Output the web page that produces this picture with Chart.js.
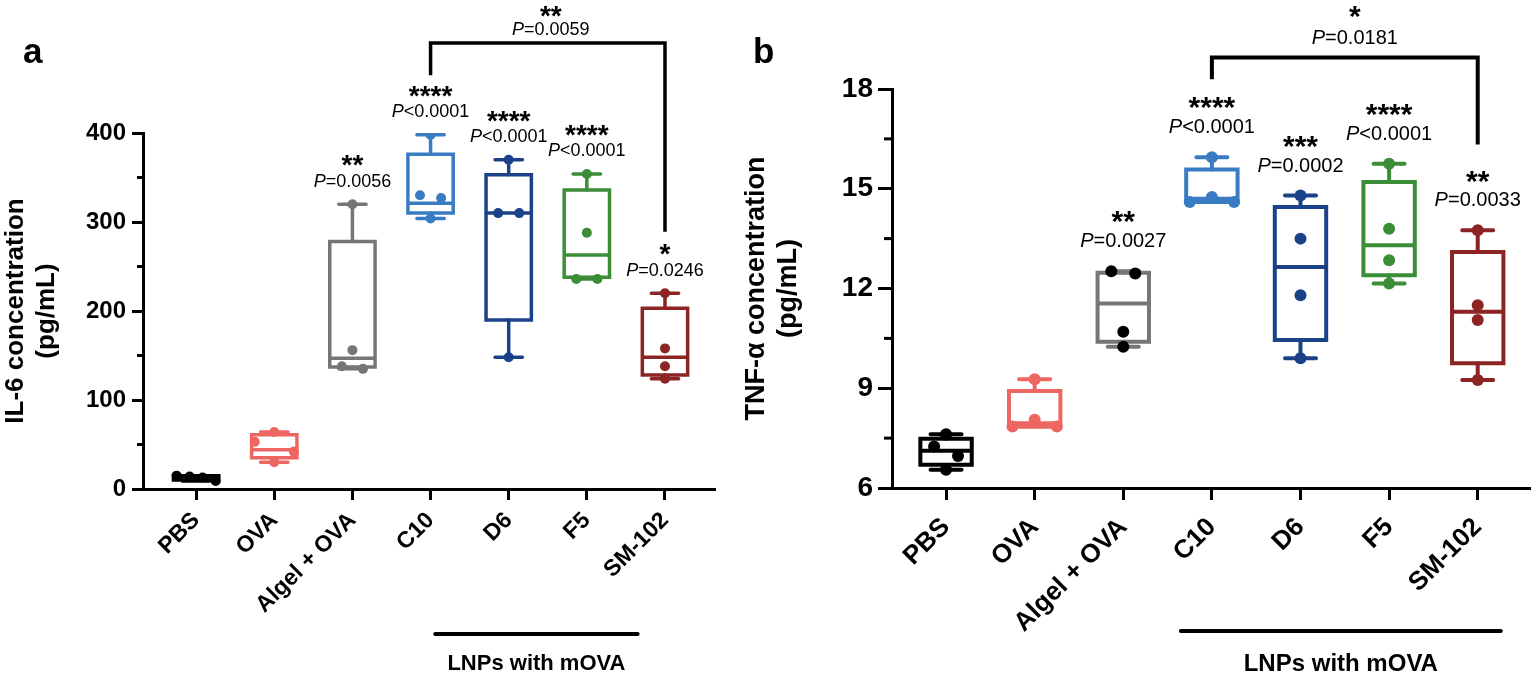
<!DOCTYPE html>
<html><head><meta charset="utf-8">
<script src="https://cdn.jsdelivr.net/npm/chart.js@4.4.1/dist/chart.umd.min.js"></script>
<style>
html,body{margin:0;padding:0;background:#fff}
body{width:1536px;height:674px;overflow:hidden;position:relative}
canvas{position:absolute;top:0}
#ca{left:0}
#cb{left:740px}
</style></head><body>
<canvas id="ca" width="740" height="674"></canvas>
<canvas id="cb" width="796" height="674"></canvas>
<script>
// ---------- data ----------
const categories = ['PBS', 'OVA', 'Algel + OVA', 'C10', 'D6', 'F5', 'SM-102'];

// Panel a: IL-6 (pg/mL) individual values per group
const il6Points = [
  [15, 14, 13, 9],
  [64, 53, 42, 30],
  [320, 156, 138, 135],
  [398, 330, 327, 304],
  [370, 310, 310, 148],
  [354, 288, 236, 236],
  [220, 158, 138, 124]
];
// box stats [min, q1, median, q3, max]
const il6Box = [
  [9, 10, 13.5, 15, 15],
  [30, 35, 44, 61, 64],
  [135, 137, 147, 278, 320],
  [304, 310, 321, 376, 398],
  [148, 190, 310, 353, 370],
  [236, 238, 263, 336, 354],
  [124, 128, 148, 203, 220]
];
const il6Stars = ['', '', '**', '****', '****', '****', '*'];
const il6P = ['', '', 'P=0.0056', 'P<0.0001', 'P<0.0001', 'P<0.0001', 'P=0.0246'];
const il6Ticks = [0, 100, 200, 300, 400];
const il6Minor = [50, 150, 250, 350];

// Panel b: TNF-alpha (pg/mL)
const tnfPoints = [
  [7.62, 7.25, 6.96, 6.55],
  [9.27, 8.05, 7.85, 7.85],
  [12.52, 12.45, 10.7, 10.25],
  [15.95, 14.75, 14.6, 14.6],
  [14.8, 13.5, 11.8, 9.9],
  [15.75, 13.8, 12.85, 12.15],
  [13.75, 11.5, 11.05, 9.25]
];
const tnfBox = [
  [6.55, 6.7, 7.12, 7.48, 7.62],
  [7.85, 7.85, 7.95, 8.92, 9.27],
  [10.25, 10.4, 11.55, 12.47, 12.52],
  [14.6, 14.62, 14.7, 15.58, 15.95],
  [9.9, 10.45, 12.65, 14.45, 14.8],
  [12.15, 12.4, 13.3, 15.2, 15.75],
  [9.25, 9.75, 11.3, 13.1, 13.75]
];
const tnfStars = ['', '', '**', '****', '***', '****', '**'];
const tnfP = ['', '', 'P=0.0027', 'P<0.0001', 'P=0.0002', 'P<0.0001', 'P=0.0033'];
const tnfTicks = [6, 9, 12, 15, 18];
const tnfMinor = [7.5, 10.5, 13.5, 16.5];

// comparisons C10 vs SM-102
const il6Bracket = {from: 3, to: 6, top: 501, leftEnd: 465, rightEnd: 289, stars: '**', p: 'P=0.0059'};
const tnfBracket = {from: 3, to: 6, top: 18.95, leftEnd: 18.29, rightEnd: 16.33, stars: '*', p: 'P=0.0181'};

// ---------- styles ----------
const FONT = "'Liberation Sans', Arial, Helvetica, sans-serif";
const boxColors = ['#000000', '#EE6662', '#767676', '#3A7CC3', '#1B4288', '#3B8D37', '#8C2424'];
const ptColorsA = ['#000000', '#EE6662', '#767676', '#3A7CC3', '#1B4288', '#3B8D37', '#8C2424'];
const ptColorsB = ['#000000', '#EE6662', '#000000', '#3A7CC3', '#1B4288', '#3B8D37', '#8C2424'];

// spread overlapping points horizontally (scatter-dot style)
function clusterOffsets(vals, thr) {
  const idx = vals.map((v, i) => i).sort((a, b) => vals[b] - vals[a]);
  const off = new Array(vals.length).fill(0);
  let cl = [idx[0]];
  const flush = () => {
    const n = cl.length;
    if (n > 1) {
      const s = Math.min(0.27, 0.5 / (n - 1));
      if (n % 2 === 1) {
        const order = [0];
        for (let k = 1; k <= (n - 1) / 2; k++) order.push(-k, k);
        cl.forEach((id, j) => off[id] = order[j] * s);
      } else {
        cl.forEach((id, j) => off[id] = (j - (n - 1) / 2) * s);
      }
    }
  };
  for (let k = 1; k < idx.length; k++) {
    if (vals[idx[k - 1]] - vals[idx[k]] < thr) cl.push(idx[k]);
    else { flush(); cl = [idx[k]]; }
  }
  flush();
  return off;
}

function buildScatter(points, colors, thr) {
  const data = [], bg = [];
  points.forEach((vals, i) => {
    const off = clusterOffsets(vals, thr);
    vals.forEach((v, j) => { data.push({x: i + off[j], y: v}); bg.push(colors[i]); });
  });
  return {data, bg};
}

const boxPlugin = {
  id: 'boxplot',
  beforeDatasetsDraw(chart, args, o) {
    const ctx = chart.ctx, xs = chart.scales.x, ys = chart.scales.y;
    const py = v => ys.getPixelForValue(v);
    ctx.save();
    o.stats.forEach((st, i) => {
      const [mn, q1, md, q3, mx] = st;
      const cx = xs.getPixelForValue(i);
      const hw = xs.getPixelForValue(i + o.boxWidth / 2) - cx;
      const cw = xs.getPixelForValue(i + o.capWidth / 2) - cx;
      ctx.strokeStyle = o.colors[i];
      ctx.lineWidth = o.lineWidth;
      ctx.lineCap = 'round';
      ctx.beginPath();
      ctx.moveTo(cx, py(mx)); ctx.lineTo(cx, py(q3));
      ctx.moveTo(cx, py(q1)); ctx.lineTo(cx, py(mn));
      ctx.moveTo(cx - cw, py(mx)); ctx.lineTo(cx + cw, py(mx));
      ctx.moveTo(cx - cw, py(mn)); ctx.lineTo(cx + cw, py(mn));
      ctx.stroke();
      ctx.lineCap = 'butt'; ctx.lineJoin = 'miter';
      ctx.beginPath();
      ctx.rect(cx - hw, py(q3), 2 * hw, py(q1) - py(q3));
      ctx.stroke();
      ctx.beginPath();
      ctx.moveTo(cx - hw, py(md)); ctx.lineTo(cx + hw, py(md));
      ctx.stroke();
    });
    ctx.restore();
  },
  afterDraw(chart, args, o) {
    const ctx = chart.ctx, xs = chart.scales.x, ys = chart.scales.y, ca = chart.chartArea;
    const py = v => ys.getPixelForValue(v);
    ctx.save();
    ctx.fillStyle = '#000'; ctx.strokeStyle = '#000';
    // minor y ticks
    ctx.lineWidth = 3;
    o.minor.forEach(v => {
      ctx.beginPath(); ctx.moveTo(ca.left - o.minorLen, py(v)); ctx.lineTo(ca.left, py(v)); ctx.stroke();
    });
    const drawP = (text, cx, cy, size) => {
      const rest = text.slice(1);
      ctx.font = `italic ${size}px ${FONT}`; const w1 = ctx.measureText('P').width;
      ctx.font = `${size}px ${FONT}`; const w2 = ctx.measureText(rest).width;
      const x0 = cx - (w1 + w2) / 2, base = cy + 0.358 * size;
      ctx.textAlign = 'left'; ctx.textBaseline = 'alphabetic';
      ctx.font = `italic ${size}px ${FONT}`; ctx.fillText('P', x0, base);
      ctx.font = `${size}px ${FONT}`; ctx.fillText(rest, x0 + w1, base);
    };
    const drawStars = (s, cx, cy, size) => {
      ctx.font = `bold ${size}px ${FONT}`;
      ctx.textAlign = 'center'; ctx.textBaseline = 'alphabetic';
      ctx.fillText(s, cx, cy + 0.575 * size);
    };
    // per-group significance
    o.stats.forEach((st, i) => {
      if (!o.p[i]) return;
      const cx = xs.getPixelForValue(i);
      const pc = py(st[4]) - o.pGap;
      drawP(o.p[i], cx, pc, o.pSize);
      drawStars(o.stars[i], cx, pc - o.starGap, o.starSize);
    });
    // bracket
    const b = o.bracket;
    const x1 = xs.getPixelForValue(b.from), x2 = xs.getPixelForValue(b.to);
    const yT = py(b.top);
    ctx.lineWidth = o.bracketWidth; ctx.lineJoin = 'miter'; ctx.lineCap = 'butt';
    ctx.beginPath();
    ctx.moveTo(x1, py(b.leftEnd)); ctx.lineTo(x1, yT); ctx.lineTo(x2, yT); ctx.lineTo(x2, py(b.rightEnd));
    ctx.stroke();
    const bx = (x1 + x2) / 2 + o.bracketTextDx;
    drawP(b.p, bx, yT - o.bracketPGap, o.pSize);
    drawStars(b.stars, bx, yT - o.bracketPGap - o.bracketStarGap, o.starSize);
    // LNPs group line
    const l = o.lnp;
    const lx1 = xs.getPixelForValue(l.from), lx2 = xs.getPixelForValue(l.to);
    ctx.lineWidth = 4; ctx.lineCap = 'round';
    ctx.beginPath(); ctx.moveTo(lx1, ca.bottom + l.lineDy); ctx.lineTo(lx2, ca.bottom + l.lineDy); ctx.stroke();
    ctx.font = `bold ${l.size}px ${FONT}`; ctx.textAlign = 'center'; ctx.textBaseline = 'alphabetic';
    ctx.fillText(l.text, (lx1 + lx2) / 2, ca.bottom + l.textDy + 0.358 * l.size);
    // panel letter
    ctx.font = `bold ${o.letterSize}px ${FONT}`; ctx.textAlign = 'left';
    ctx.fillText(o.letter, o.letterX, o.letterY);
    ctx.restore();
  }
};

function makeChart(id, P) {
  const sc = buildScatter(P.points, P.ptColors, P.clusterThr);
  return new Chart(document.getElementById(id), {
    type: 'scatter',
    data: {datasets: [{data: sc.data, pointBackgroundColor: sc.bg, pointBorderWidth: 0, pointRadius: P.ptRadius, pointHoverRadius: P.ptRadius}]},
    options: {
      responsive: false, animation: false,
      layout: {padding: {left: 0, top: P.top, right: P.right, bottom: 0}},
      plugins: {
        legend: {display: false}, tooltip: {enabled: false},
        boxplot: {
          stats: P.box, colors: boxColors, boxWidth: 0.58, capWidth: 0.35, lineWidth: P.lineW,
          minor: P.minor, minorLen: P.minorLen,
          stars: P.stars, p: P.p, pSize: P.pSize, starSize: P.starSize, pGap: P.pGap, starGap: P.starGap,
          bracket: P.bracket, bracketWidth: P.lineW, bracketPGap: P.bPGap, bracketStarGap: P.bStarGap, bracketTextDx: P.bDx,
          lnp: P.lnp, letter: P.letter, letterX: P.letterX, letterY: 63, letterSize: 35
        }
      },
      scales: {
        x: {
          type: 'linear', min: P.xMin, max: P.xMax,
          afterBuildTicks: s => { s.ticks = categories.map((c, i) => ({value: i})); },
          ticks: {autoSkip: false, minRotation: 45, maxRotation: 45, padding: P.xPad,
                  font: {family: FONT, size: P.xFont, weight: 'bold'}, color: '#000',
                  callback: v => categories[Math.round(v)]},
          grid: {drawOnChartArea: false, tickLength: P.xTick, tickWidth: 3, tickColor: '#000'},
          border: {display: true, width: 3, color: '#000'},
          afterFit: s => { s.height = P.xHeight; }
        },
        y: {
          type: 'linear', min: P.yTicks[0], max: P.yTicks[P.yTicks.length - 1],
          afterBuildTicks: s => { s.ticks = P.yTicks.map(v => ({value: v})); },
          ticks: {padding: P.yPad, font: {family: FONT, size: P.yFont, weight: 'bold'}, color: '#000'},
          grid: {drawOnChartArea: false, tickLength: P.yTick, tickWidth: 3, tickColor: '#000'},
          border: {display: true, width: 3, color: '#000'},
          title: {display: true, text: P.yTitle, color: '#000', padding: {top: P.titlePad, bottom: 0},
                  font: {family: FONT, size: P.titleSize, weight: 'bold', lineHeight: 1.2}},
          afterFit: s => { s.width = P.yWidth; }
        }
      }
    },
    plugins: [boxPlugin]
  });
}

makeChart('ca', {
  points: il6Points, box: il6Box, ptColors: ptColorsA, clusterThr: 11.2, ptRadius: 5,
  stars: il6Stars, p: il6P, yTicks: il6Ticks, minor: il6Minor, minorLen: 6,
  bracket: il6Bracket, bPGap: 15, bStarGap: 19, bDx: 3,
  lnp: {from: 3.06, to: 5.65, lineDy: 145, textDy: 173, size: 22, text: 'LNPs with mOVA'},
  letter: 'a', letterX: 23,
  top: 133, right: 25, xHeight: 185, yWidth: 143, xMin: -0.68, xMax: 6.64,
  lineW: 3.5, pSize: 18, starSize: 28, pGap: 24, starGap: 22,
  xPad: 7, xFont: 23, xTick: 11, yPad: 6, yFont: 24, yTick: 11,
  yTitle: ['IL-6 concentration', '(pg/mL)'], titleSize: 26, titlePad: 0
});

makeChart('cb', {
  points: tnfPoints, box: tnfBox, ptColors: ptColorsB, clusterThr: 0.36, ptRadius: 6,
  stars: tnfStars, p: tnfP, yTicks: tnfTicks, minor: tnfMinor, minorLen: 8,
  bracket: tnfBracket, bPGap: 21, bStarGap: 28, bDx: 10,
  lnp: {from: 2.65, to: 6.26, lineDy: 143, textDy: 174, size: 24, text: 'LNPs with mOVA'},
  letter: 'b', letterX: 13,
  top: 89, right: 6, xHeight: 186, yWidth: 152, xMin: -0.61, xMax: 6.59,
  lineW: 4, pSize: 20, starSize: 30, pGap: 31, starGap: 26,
  xPad: 12, xFont: 26, xTick: 12, yPad: 5, yFont: 28, yTick: 14,
  yTitle: ['TNF-α concentration', '(pg/mL)'], titleSize: 27, titlePad: 0
});
</script>
</body></html>
